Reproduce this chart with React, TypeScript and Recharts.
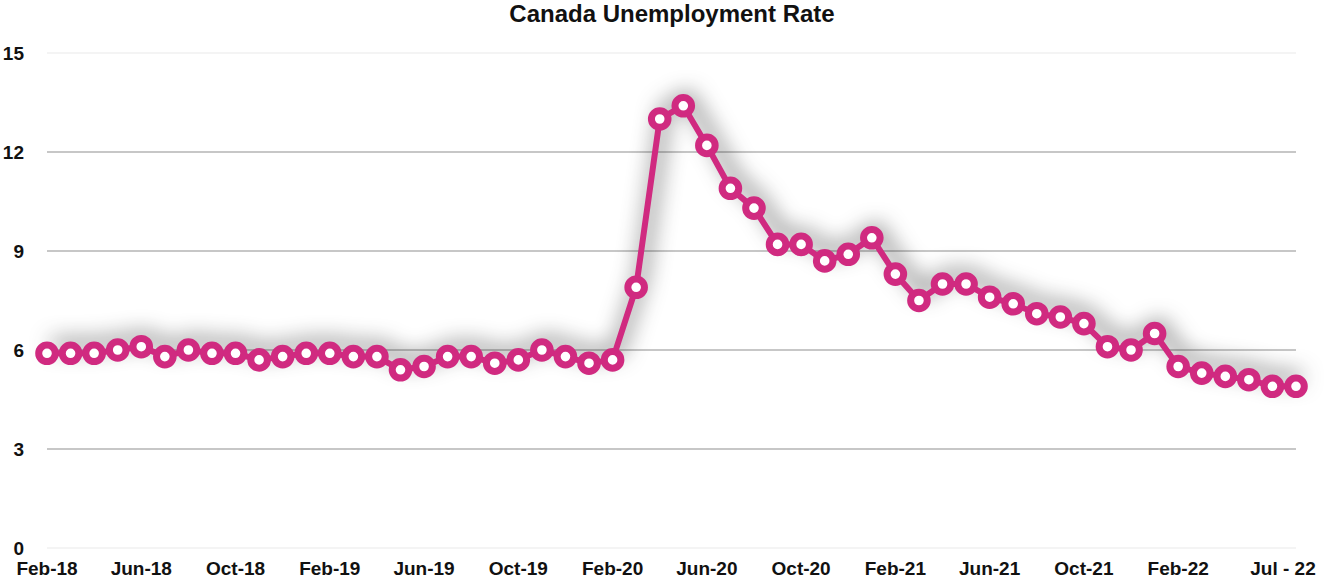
import { LineChart, Line, XAxis, YAxis, CartesianGrid } from 'recharts'

const MONTHS = [
  'Feb-18', 'Mar-18', 'Apr-18', 'May-18', 'Jun-18', 'Jul-18', 'Aug-18', 'Sep-18', 'Oct-18', 'Nov-18', 'Dec-18',
  'Jan-19', 'Feb-19', 'Mar-19', 'Apr-19', 'May-19', 'Jun-19', 'Jul-19', 'Aug-19', 'Sep-19', 'Oct-19', 'Nov-19', 'Dec-19',
  'Jan-20', 'Feb-20', 'Mar-20', 'Apr-20', 'May-20', 'Jun-20', 'Jul-20', 'Aug-20', 'Sep-20', 'Oct-20', 'Nov-20', 'Dec-20',
  'Jan-21', 'Feb-21', 'Mar-21', 'Apr-21', 'May-21', 'Jun-21', 'Jul-21', 'Aug-21', 'Sep-21', 'Oct-21', 'Nov-21', 'Dec-21',
  'Jan-22', 'Feb-22', 'Mar-22', 'Apr-22', 'May-22', 'Jun-22', 'Jul - 22',
]

const RATE = [
  5.9, 5.9, 5.9, 6.0, 6.1, 5.8, 6.0, 5.9, 5.9, 5.7, 5.8,
  5.9, 5.9, 5.8, 5.8, 5.4, 5.5, 5.8, 5.8, 5.6, 5.7, 6.0, 5.8,
  5.6, 5.7, 7.9, 13.0, 13.4, 12.2, 10.9, 10.3, 9.2, 9.2, 8.7, 8.9,
  9.4, 8.3, 7.5, 8.0, 8.0, 7.6, 7.4, 7.1, 7.0, 6.8, 6.1, 6.0,
  6.5, 5.5, 5.3, 5.2, 5.1, 4.9, 4.9,
]

const X_LABELS = ['Feb-18', 'Jun-18', 'Oct-18', 'Feb-19', 'Jun-19', 'Oct-19', 'Feb-20', 'Jun-20', 'Oct-20', 'Feb-21', 'Jun-21', 'Oct-21', 'Feb-22', 'Jul - 22']
const Y_TICKS = [0, 3, 6, 9, 12, 15]

const PINK = '#d02a80'
const FONT = '"Liberation Sans", Arial, Helvetica, sans-serif'

const data = MONTHS.map((m, i) => ({ month: m, rate: RATE[i] }))

const YTick = (props: any) => (
  <text x={24} y={props.y} textAnchor="end" dominantBaseline="central" fontSize={19} fontWeight={700} fill="#111" fontFamily={FONT}>
    {props.payload.value}
  </text>
)

const XTick = (props: any) => {
  const v = props.payload.value
  if (!X_LABELS.includes(v)) return <g />
  // last label sits a little inside the plot edge
  const last = v === X_LABELS[X_LABELS.length - 1]
  return (
    <text x={props.x} y={props.y} dx={last ? -13 : 0} dy={12} textAnchor="middle" dominantBaseline="central" fontSize={19} fontWeight={700} fill="#111" fontFamily={FONT}>
      {v}
    </text>
  )
}

const GridLine = (p: any) => {
  const edge = p.index === 0 || p.index === Y_TICKS.length - 1
  return <line x1={p.x1} y1={p.y1} x2={p.x2} y2={p.y2} stroke={edge ? '#f1f1f1' : '#b4b4b4'} strokeWidth={1.6} />
}

export default function App() {
  return (
    <div style={{ position: 'absolute', left: 0, top: 0, width: 1344, height: 582, background: '#fff', fontFamily: FONT }}>
      <style>{`.recharts-line { filter: drop-shadow(5px -9px 11px rgba(0,0,0,0.85)); }`}</style>
      <div style={{ position: 'absolute', left: 0, top: 0, width: 1344, textAlign: 'center', fontSize: 24, fontWeight: 700, lineHeight: '28px', color: '#111' }}>
        Canada Unemployment Rate
      </div>
      <LineChart width={1344} height={582} data={data} margin={{ top: 53, right: 48, bottom: 0, left: 0 }}>
        <CartesianGrid vertical={false} horizontal={GridLine as any} />
        <XAxis dataKey="month" interval={0} axisLine={false} tickLine={false} height={34} tick={XTick} />
        <YAxis domain={[0, 15]} ticks={Y_TICKS} width={47} axisLine={false} tickLine={false} tick={YTick} />
        <Line
          type="linear"
          dataKey="rate"
          stroke={PINK}
          strokeWidth={6}
          dot={{ r: 8.3, fill: '#fff', stroke: PINK, strokeWidth: 7 }}
          isAnimationActive={false}
        />
      </LineChart>
    </div>
  )
}
